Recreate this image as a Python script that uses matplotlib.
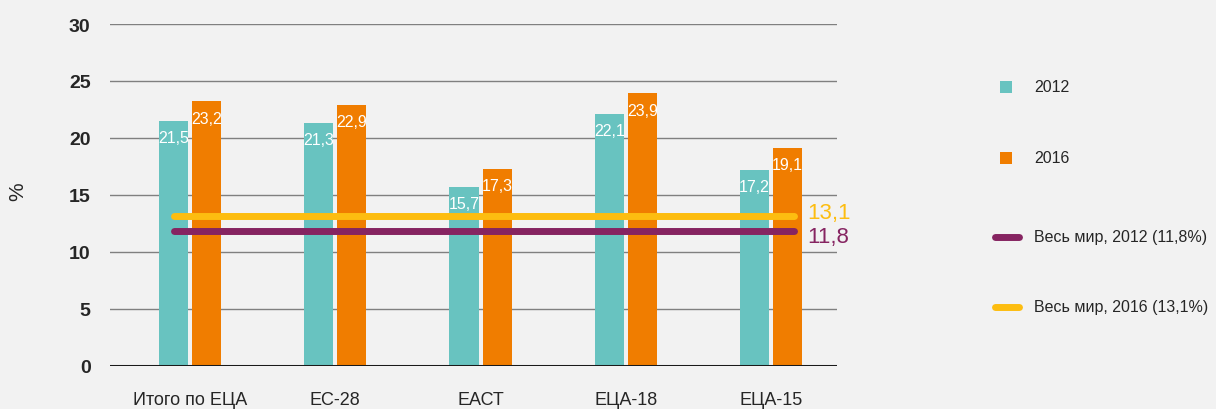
import numpy as np
import matplotlib
matplotlib.use("Agg")
import matplotlib.pyplot as plt
from matplotlib.lines import Line2D
from matplotlib.patches import Rectangle

# --- data ---
categories = ["Итого по ЕЦА", "ЕС-28", "ЕАСТ", "ЕЦА-18", "ЕЦА-15"]
values_2012 = [21.5, 21.3, 15.7, 22.1, 17.2]
values_2016 = [23.2, 22.9, 17.3, 23.9, 19.1]
world_2012 = 11.8
world_2016 = 13.1
world_labels = ["Весь мир, 2012 (11,8%)", "Весь мир, 2016 (13,1%)"]
yticks = [0, 5, 10, 15, 20, 25, 30]

# --- style ---
BG = "#f2f2f2"
TEAL = "#68c3c0"
ORANGE = "#f07d00"
YELLOW = "#fdbd10"
PURPLE = "#862461"
TXT = "#262626"
plt.rcParams["font.family"] = ["Liberation Sans Narrow", "Liberation Sans", "DejaVu Sans"]

W, H = 1216, 410
fig = plt.figure(figsize=(W / 100, H / 100), dpi=100, facecolor=BG)
ax = fig.add_axes([110 / W, 43.3 / H, 727 / W, 341.7 / H], facecolor=BG)

x = np.arange(len(categories))
w = 0.2
gap = 0.014
b1 = ax.bar(x - w / 2 - gap, values_2012, w, color=TEAL, zorder=2)
b2 = ax.bar(x + w / 2 + gap, values_2016, w, color=ORANGE, zorder=2)

def fmt(v):
    return f"{v:.1f}".replace(".", ",")

for bars, vals in ((b1, values_2012), (b2, values_2016)):
    for r, v in zip(bars, vals):
        ax.text(r.get_x() + r.get_width() / 2, v - 0.8, fmt(v), ha="center", va="top",
                color="white", fontsize=11.5, zorder=4)

# world lines
x0, x1 = -0.11, 4.16
ax.plot([x0, x1], [world_2016, world_2016], color=YELLOW, lw=5, solid_capstyle="round", zorder=3)
ax.plot([x0, x1], [world_2012, world_2012], color=PURPLE, lw=5, solid_capstyle="round", zorder=3)
ax.text(4.25, 13.45, fmt(world_2016), color=YELLOW, fontsize=16, va="center", ha="left")
ax.text(4.25, 11.35, fmt(world_2012), color=PURPLE, fontsize=16, va="center", ha="left")

ax.set_ylim(0, 30)
ax.set_xlim(-0.551, 4.454)
ax.set_yticks(yticks)
ax.set_yticklabels([str(t) for t in yticks], fontsize=14, color=TXT, fontweight="bold")
ax.set_xticks(x)
ax.set_xticklabels(categories, fontsize=13, color=TXT)
ax.tick_params(axis="y", length=0, pad=14)
ax.tick_params(axis="x", length=0, pad=18)
ax.yaxis.grid(True, color="#808080", lw=1.0, zorder=0)
ax.set_axisbelow(True)
for s in ax.spines.values():
    s.set_visible(False)
ax.axhline(0, color="#1a1a1a", lw=2.2, zorder=5)
fig.text(18 / W, 1 - 192 / H, "%", rotation=90, fontsize=15, color=TXT, ha="center", va="center")

# legend, drawn by hand in figure pixels
def fx(px):
    return px / W

def fy(py):
    return 1 - py / H

for yc, col, lab in ((88, TEAL, "2012"), (159, ORANGE, "2016")):
    fig.add_artist(Rectangle((fx(1000), fy(yc + 6)), 12 / W, 12 / H, facecolor=col,
                             edgecolor="none", transform=fig.transFigure))
    fig.text(fx(1034), fy(yc), lab, fontsize=11.5, color=TXT, va="center", ha="left")
for yc, col, lab in ((238, PURPLE, world_labels[0]), (308, YELLOW, world_labels[1])):
    fig.add_artist(Line2D([fx(995), fx(1019)], [fy(yc), fy(yc)], color=col, lw=5,
                          solid_capstyle="round", transform=fig.transFigure))
    fig.text(fx(1034), fy(yc), lab, fontsize=11.5, color=TXT, va="center", ha="left")

fig.savefig("out.png", dpi=100, facecolor=BG)
